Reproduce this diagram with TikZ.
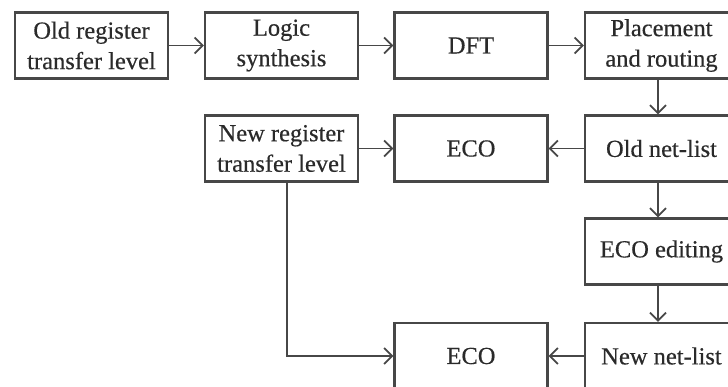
\documentclass[tikz,border=0pt]{standalone}
\usepackage{fontspec}
\setmainfont{Liberation Serif}
\newfontface\stagefont{Liberation Serif}[FakeBold=0.4]
\usetikzlibrary{arrows.meta}
\definecolor{edge}{HTML}{474747}
\definecolor{ink}{HTML}{2A2A2A}
\begin{document}
\begin{tikzpicture}[x=1pt,y=1pt,
  stage/.style={draw=edge, line width=2.2pt, minimum width=153pt, minimum height=66pt,
    inner sep=1pt, align=center, text=ink,
    font=\stagefont\fontsize{24.5pt}{30.5pt}\selectfont},
  conn/.style={draw=edge, line width=1.8pt,
    -{Straight Barb[length=8pt,width=16pt,line width=1.8pt]}}]
  \useasboundingbox (0,0) rectangle (728,-387);
  \fill[white] (0,0) rectangle (728,-387);
  \clip (0,0) rectangle (728,-387);

  % top row: original design flow
  \node[stage] (oldrtl) at (91.5,-45.5) {Old register\\transfer level};
  \node[stage] (synth)  at (281.5,-45.5) {Logic\\synthesis};
  \node[stage] (dft)    at (471,-45.5) {DFT};
  \node[stage] (place)  at (661.5,-45.5) {Placement\\and routing};

  % second row
  \node[stage] (newrtl) at (281.5,-148.5) {New register\\transfer level};
  \node[stage] (eco1)   at (471,-148.5) {ECO};
  \node[stage] (oldnet) at (661.5,-148.5) {Old net-list};

  % right column and bottom row
  \node[stage] (ecoedit) at (661.5,-251.5) {ECO editing};
  \node[stage] (eco2)    at (471,-356) {ECO};
  \node[stage] (newnet)  at (661.5,-356) {New net-list};

  % connectors
  \draw[conn] (oldrtl) -- (synth);
  \draw[conn] (synth) -- (dft);
  \draw[conn] (dft) -- (place);
  \draw[conn] ([xshift=-3.5pt]place.south) -- ([xshift=-3.5pt]oldnet.north);
  \draw[conn] (oldnet) -- (eco1);
  \draw[conn] (newrtl) -- (eco1);
  \draw[conn] ([xshift=-3.5pt]oldnet.south) -- ([xshift=-3.5pt]ecoedit.north);
  \draw[conn] ([xshift=-3.5pt]ecoedit.south) -- ([xshift=-3.5pt]newnet.north);
  \draw[conn] (newnet) -- (eco2);
  \draw[conn] ([xshift=5.5pt]newrtl.south) |- (eco2.west);
\end{tikzpicture}
\end{document}
